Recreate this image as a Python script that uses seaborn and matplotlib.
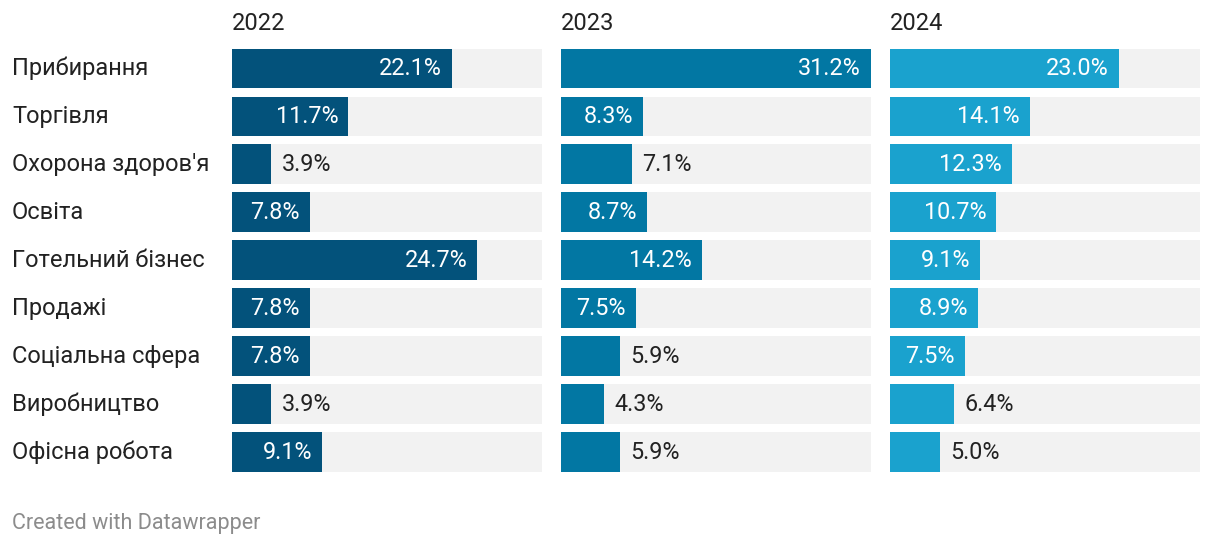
import matplotlib
matplotlib.use("Agg")
import matplotlib.pyplot as plt
import matplotlib.transforms as mtransforms
import seaborn as sns
import pandas as pd

# Data
categories = ["Прибирання", "Торгівля", "Охорона здоров'я", "Освіта",
              "Готельний бізнес", "Продажі", "Соціальна сфера",
              "Виробництво", "Офісна робота"]
years = ["2022", "2023", "2024"]
share_2022 = [22.1, 11.7, 3.9, 7.8, 24.7, 7.8, 7.8, 3.9, 9.1]
share_2023 = [31.2, 8.3, 7.1, 8.7, 14.2, 7.5, 5.9, 4.3, 5.9]
share_2024 = [23.0, 14.1, 12.3, 10.7, 9.1, 8.9, 7.5, 6.4, 5.0]

series = [share_2022, share_2023, share_2024]
colors = ["#03527b", "#0277a3", "#1aa2ce"]
max_val = max(max(s) for s in series)

sns.set_style("white")
plt.rcParams["font.family"] = ["Roboto", "DejaVu Sans"]

fig = plt.figure(figsize=(12.2, 5.48), dpi=100)
W, H = 1220, 548
top_px, bottom_px = 44.5, 476
lefts = [232, 561, 890]
panel_w = 310

for i, (year, vals, col) in enumerate(zip(years, series, colors)):
    ax = fig.add_axes([lefts[i] / W, (H - bottom_px) / H, panel_w / W,
                       (bottom_px - top_px) / H])
    df = pd.DataFrame({"category": categories, "value": vals,
                       "full": [max_val] * len(categories)})
    sns.barplot(data=df, x="full", y="category", color="#f2f2f2",
                width=0.83, saturation=1, linewidth=0, ax=ax)
    sns.barplot(data=df, x="value", y="category", color=col,
                width=0.83, saturation=1, linewidth=0, ax=ax)
    ax.set_xlim(0, max_val)
    ax.set_ylim(len(categories) - 0.5, -0.5)
    ax.set_xlabel("")
    ax.set_ylabel("")
    ax.set_xticks([])
    ax.set_yticks([])
    for sp in ax.spines.values():
        sp.set_visible(False)

    # value labels
    px_per_unit = panel_w / max_val
    for j, v in enumerate(vals):
        if v >= 7.4:
            ax.text(v - 10 / px_per_unit, j, f"{v:.1f}%", ha="right",
                    va="center", color="white", fontsize=16.8)
        else:
            ax.text(v + 11 / px_per_unit, j, f"{v:.1f}%", ha="left",
                    va="center", color="#222222", fontsize=16.8)

    fig.text(lefts[i] / W, 1 - 24 / H, year, ha="left", va="center",
             fontsize=17, color="#222222")

    if i == 0:
        trans = mtransforms.blended_transform_factory(fig.transFigure,
                                                      ax.transData)
        for j, c in enumerate(categories):
            ax.text(12 / W, j, c, transform=trans, ha="left", va="center",
                    fontsize=17, color="#222222")

fig.text(12 / W, 1 - 524 / H, "Created with Datawrapper", ha="left",
         va="center", fontsize=15.5, color="#8c8c8c")

fig.savefig("out.png", dpi=100)
